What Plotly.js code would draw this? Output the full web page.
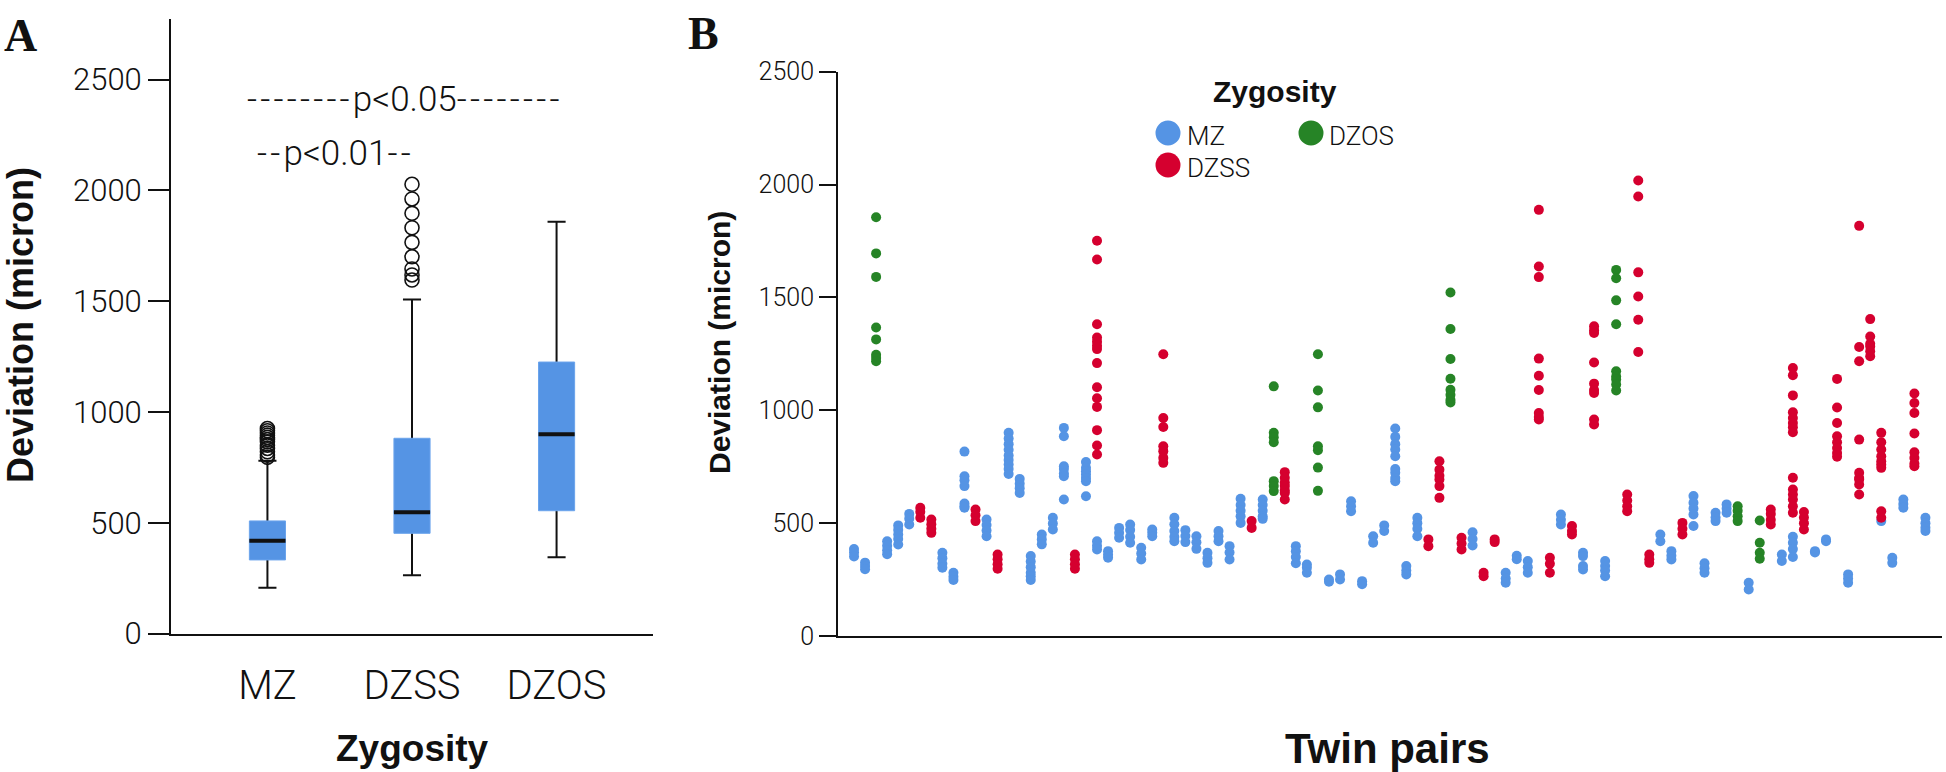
<!DOCTYPE html>
<html>
<head>
<meta charset="utf-8">
<script src="https://cdn.plot.ly/plotly-3.0.1.min.js"></script>
<style>html,body{margin:0;padding:0;background:#fff;}#chart{width:1946px;height:772px;}</style>
</head>
<body>
<div id="chart"></div>
<script>
// ---------- Panel A: box plot summary (micron) ----------
const groups = ['MZ', 'DZSS', 'DZOS'];
const q1 = [332, 452, 554];
const medians = [419, 547, 899];
const q3 = [508, 881, 1225];
const lowerFence = [207, 263, 344];
const upperFence = [780, 1507, 1858];
const mzOutliers = [925, 915, 905, 895, 885, 875, 865, 850, 835, 820, 805, 795];
const dzssOutliers = [2027, 1961, 1896, 1831, 1765, 1700, 1645, 1618, 1595];
const dzosOutliers = [];
const sigLabels = ['p<0.05', 'p<0.01'];

// ---------- Panel B: deviation per twin pair ----------
const mzPairs = [0,1,3,4,5,8,9,10,12,14,15,16,17,18,19,21,22,23,24,25,26,27,29,30,31,32,33,34,35,37,40,41,43,44,45,46,47,48,49,50,51,56,59,60,61,64,66,68,73,74,76,77,78,79,81,84,85,87,88,90,93,94,95,97];
const mzDev = [
  [385,370,352],[325,310,296],[420,400,380,362],[490,470,450,430,405],[541,520,494],
  [369,345,320,302],[280,262,248],[817,708,690,664,587,575,568],[516,492,467,442],
  [900,875,850,825,800,780,760,740,718],[696,675,655,634],[354,330,305,280,265,248],
  [450,428,406],[524,498,472],[922,885,752,740,720,708,605],[771,745,730,715,700,686,619],
  [420,400,383],[376,360,347],[479,457,435],[494,470,440,413],[391,365,339],[472,457,442],
  [524,495,465,440,420],[469,443,416],[442,415,386],[369,345,324],[465,442,420],[398,370,339],
  [608,580,555,530,501],[605,580,555,530,519],[398,375,350,322],[317,302,280],[250,240],
  [273,250],[597,575,553],[243,229],[442,413],[490,465],[919,882,850,826,796,740,723,700,686],
  [310,290,273],[524,500,475,442],[460,430,401],[280,255,236],[355,340],[332,305,280],
  [538,515,494],[369,354,310,295],[332,310,290,265],[450,420],[376,355,339],
  [620,590,565,538,487],[322,300,280],[546,525,509],[583,565,546],[236,206],[361,332],
  [440,413,385,350],[376,370],[428,420],[273,255,236],[509],[347,324],[605,585,568],
  [524,500,480,465]
];
const dzssPairs = [6,7,11,13,20,22,28,36,39,52,53,55,57,58,62,63,65,67,70,71,72,75,83,85,86,89,91,92,93,96];
const dzssDev = [
  [568,550,524],[516,495,475,457],[560,535,509],[361,340,318,298],[361,340,318,298],
  [1751,1668,1381,1322,1304,1286,1271,1209,1102,1053,1015,912,844,804],
  [1248,966,926,841,819,789,767],[509,479],[726,701,680,664,645,634,605],[428,398],
  [774,737,710,693,664,612],[435,410,383],[280,265],[428,416],
  [1888,1637,1590,1229,1153,1090,988,970,959],[347,320,280],[487,465,450],
  [1372,1355,1342,1212,1118,1090,1077,959,937],[627,600,575,553],
  [2018,1947,1611,1504,1401,1258],[361,340,324],[501,475,450],[560,540,515,494],
  [1187,1155,1066,991,966,944,925,903,701,649,627,605,575,546],[549,525,500,472],
  [1139,1012,944,885,858,833,811,794],[1817,1280,1217,870,723,700,693,671,627],
  [1404,1327,1295,1283,1261,1239],[900,858,826,796,774,760,745,553,524],
  [1074,1032,988,897,814,789,764,752]
];
const dzosPairs = [2,38,42,54,69,80,82];
const dzosDev = [
  [1855,1695,1591,1367,1314,1246,1232,1217],
  [1106,900,880,858,686,665,642],
  [1248,1088,1013,841,823,746,643],
  [1522,1360,1227,1140,1091,1069,1047,1035],
  [1622,1585,1487,1381,1173,1150,1136,1114,1088],
  [575,555,530,509],
  [512,413,369,342]
];
const legendLabels = ['MZ', 'DZSS', 'DZOS'];

// ---------- styles ----------
const BLUE = '#5594E4', RED = '#D5002F', GREEN = '#268426';
const SANS = 'Liberation Sans, Arial, Helvetica, sans-serif';
const LIGHT = 'Roboto, Liberation Sans, Arial, sans-serif';
const INK = '#111111';

function flatten(pairs, devs) {
  const x = [], y = [];
  pairs.forEach((p, i) => devs[i].forEach(v => { x.push(p); y.push(v); }));
  return {x, y};
}
const mz = flatten(mzPairs, mzDev);
const dzss = flatten(dzssPairs, dzssDev);
const dzos = flatten(dzosPairs, dzosDev);

const outX = [], outY = [];
[[mzOutliers, 'MZ'], [dzssOutliers, 'DZSS'], [dzosOutliers, 'DZOS']].forEach(([arr, g]) => {
  arr.forEach(v => { outX.push(g); outY.push(v); });
});

const boxCommon = {type: 'box', x: groups, xaxis: 'x', yaxis: 'y', width: 0.25, boxpoints: false, hoverinfo: 'skip', showlegend: false};

const traces = [
  Object.assign({}, boxCommon, {
    q1: medians, median: medians, q3: medians, lowerfence: lowerFence, upperfence: upperFence,
    whiskerwidth: 0.5, fillcolor: 'rgba(0,0,0,0)', line: {color: INK, width: 2}
  }),
  Object.assign({}, boxCommon, {
    q1: q1, median: medians, q3: q3, lowerfence: q1, upperfence: q3,
    whiskerwidth: 0, fillcolor: BLUE, line: {color: '#6BA4EC', width: 1}
  }),
  Object.assign({}, boxCommon, {
    q1: medians, median: medians, q3: medians, lowerfence: medians, upperfence: medians,
    whiskerwidth: 0, fillcolor: 'rgba(0,0,0,0)', line: {color: INK, width: 4}
  }),
  {type: 'scatter', mode: 'markers', x: outX, y: outY, xaxis: 'x', yaxis: 'y',
   marker: {symbol: 'circle-open', size: 14, color: INK, line: {width: 1.6, color: INK}},
   hoverinfo: 'y', showlegend: false},
  {type: 'scatter', mode: 'markers', name: legendLabels[0], x: mz.x, y: mz.y, xaxis: 'x2', yaxis: 'y2',
   marker: {size: 10, color: BLUE, line: {width: 0}}, showlegend: false},
  {type: 'scatter', mode: 'markers', name: legendLabels[2], x: dzos.x, y: dzos.y, xaxis: 'x2', yaxis: 'y2',
   marker: {size: 10, color: GREEN, line: {width: 0}}, showlegend: false},
  {type: 'scatter', mode: 'markers', name: legendLabels[1], x: dzss.x, y: dzss.y, xaxis: 'x2', yaxis: 'y2',
   marker: {size: 10, color: RED, line: {width: 0}}, showlegend: false}
];

const W = 1946, H = 772;
const px = v => v / W;
const py = v => (H - v) / H;

function legendDot(cx, cy, color) {
  return {type: 'circle', xref: 'paper', yref: 'paper', xsizemode: 'pixel', ysizemode: 'pixel',
    xanchor: px(cx), yanchor: py(cy), x0: -12.5, x1: 12.5, y0: -12.5, y1: 12.5,
    fillcolor: color, line: {width: 0}};
}

const lightFont = (size) => ({family: LIGHT, size: size, color: INK, weight: 300});
const dashes = n => '<span style="letter-spacing:3.2px">' + '-'.repeat(n) + '</span>';

const annotations = [
  {text: 'A', xref: 'paper', yref: 'paper', x: px(2), y: py(8), xanchor: 'left', yanchor: 'top', showarrow: false,
   font: {family: 'Liberation Serif, Times New Roman, serif', size: 46, color: INK, weight: 'bold'}},
  {text: 'B', xref: 'paper', yref: 'paper', x: px(686), y: py(6), xanchor: 'left', yanchor: 'top', showarrow: false,
   font: {family: 'Liberation Serif, Times New Roman, serif', size: 46, color: INK, weight: 'bold'}},
  {text: '<b>Deviation (micron)</b>', xref: 'paper', yref: 'paper', x: px(20), y: py(325), textangle: -90,
   xanchor: 'center', yanchor: 'middle', showarrow: false, font: {family: SANS, size: 36, color: INK}},
  {text: '<b>Zygosity</b>', xref: 'paper', yref: 'paper', x: px(412), y: py(748), xanchor: 'center', yanchor: 'middle',
   showarrow: false, font: {family: SANS, size: 37, color: INK}},
  {text: '<b>Deviation (micron)</b>', xref: 'paper', yref: 'paper', x: px(719), y: py(343), textangle: -90,
   xanchor: 'center', yanchor: 'middle', showarrow: false, font: {family: SANS, size: 30, color: INK}},
  {text: '<b>Twin pairs</b>', xref: 'paper', yref: 'paper', x: px(1387), y: py(748), xanchor: 'center', yanchor: 'middle',
   showarrow: false, font: {family: SANS, size: 42, color: INK}},
  {text: dashes(8) + sigLabels[0] + dashes(8), xref: 'x', yref: 'y', x: 0.95, y: 2410, xanchor: 'center', yanchor: 'middle',
   showarrow: false, font: lightFont(35)},
  {text: dashes(2) + sigLabels[1] + dashes(2), xref: 'x', yref: 'y', x: 0.47, y: 2168, xanchor: 'center', yanchor: 'middle',
   showarrow: false, font: lightFont(35)},
  {text: '<b>Zygosity</b>', xref: 'paper', yref: 'paper', x: px(1275), y: py(92), xanchor: 'center', yanchor: 'middle',
   showarrow: false, font: {family: SANS, size: 30, color: INK}},
  {text: legendLabels[0], xref: 'paper', yref: 'paper', x: px(1185), y: py(136), xanchor: 'left', yanchor: 'middle',
   showarrow: false, font: lightFont(26)},
  {text: legendLabels[1], xref: 'paper', yref: 'paper', x: px(1185), y: py(168), xanchor: 'left', yanchor: 'middle',
   showarrow: false, font: lightFont(26)},
  {text: legendLabels[2], xref: 'paper', yref: 'paper', x: px(1327), y: py(136), xanchor: 'left', yanchor: 'middle',
   showarrow: false, font: lightFont(26)}
];

const layout = {
  width: W, height: H,
  margin: {l: 0, r: 0, t: 0, b: 0, pad: 0},
  paper_bgcolor: '#ffffff', plot_bgcolor: '#ffffff',
  showlegend: false,
  font: {family: SANS, color: INK},
  boxmode: 'overlay',
  xaxis: {domain: [px(171), px(653)], type: 'category', range: [-0.667, 2.667], anchor: 'y',
    showline: true, linecolor: INK, linewidth: 2, ticks: '', ticklabelstandoff: 15,
    tickfont: lightFont(40), showgrid: false, zeroline: false, fixedrange: true},
  yaxis: {domain: [1 - 633.5 / H, 1 - 19 / H], range: [0, 2773], anchor: 'x',
    tickvals: [0, 500, 1000, 1500, 2000, 2500], ticks: 'outside', ticklen: 21, tickwidth: 2, tickcolor: INK,
    showline: true, linecolor: INK, linewidth: 2, tickfont: lightFont(31),
    showgrid: false, zeroline: false, fixedrange: true},
  xaxis2: {domain: [px(838), px(1942)], range: [-1.45, 98.5], anchor: 'y2',
    showline: true, linecolor: INK, linewidth: 2, ticks: '', showticklabels: false,
    showgrid: false, zeroline: false, fixedrange: true},
  yaxis2: {domain: [1 - 636 / H, 1 - 71.7 / H], range: [0, 2500], anchor: 'x2',
    tickvals: [0, 500, 1000, 1500, 2000, 2500], ticks: 'outside', ticklen: 17, tickwidth: 2, tickcolor: INK,
    showline: true, linecolor: INK, linewidth: 2, tickfont: lightFont(25),
    showgrid: false, zeroline: false, fixedrange: true},
  annotations: annotations,
  shapes: [
    legendDot(1168, 133, BLUE),
    legendDot(1168, 165, RED),
    legendDot(1311, 133, GREEN)
  ]
};

Plotly.newPlot('chart', traces, layout, {displayModeBar: false, staticPlot: true});
</script>
</body>
</html>
